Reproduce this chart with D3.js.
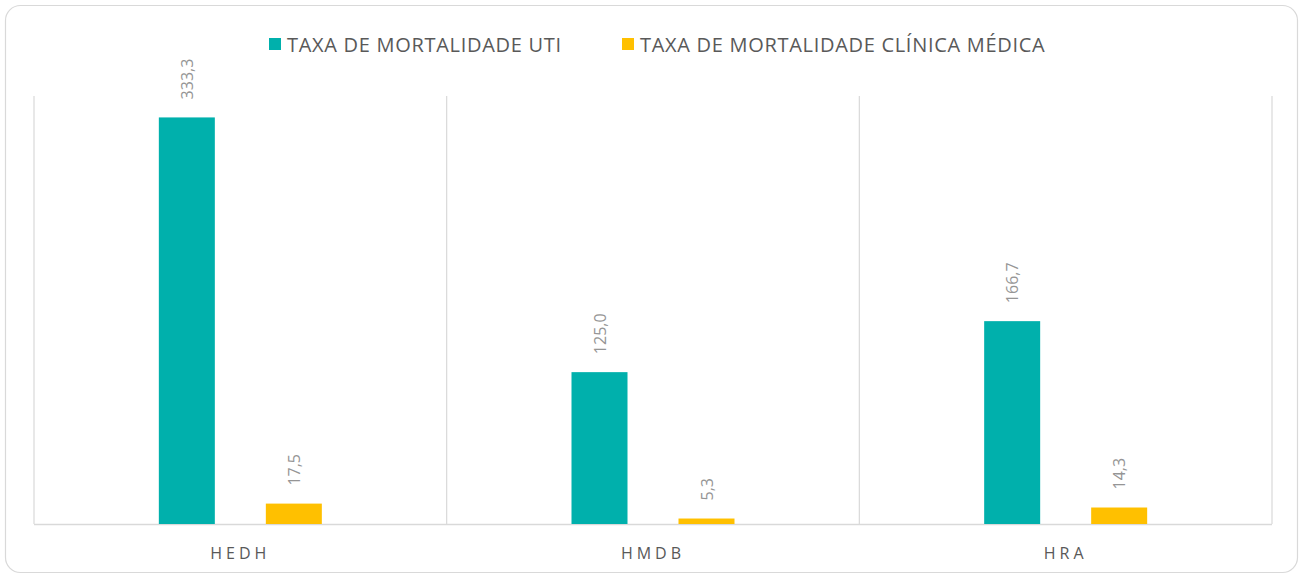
<!DOCTYPE html>
<html>
<head>
<meta charset="utf-8">
<script src="https://cdn.jsdelivr.net/npm/d3@7"></script>
<style>
  html, body { margin: 0; padding: 0; background: #fff; }
  svg { display: block; font-family: "Open Sans", sans-serif; }
</style>
</head>
<body>
<svg id="chart" width="1303" height="578"></svg>
<script>
// categorias e series
const hospitais = ['HEDH', 'HMDB', 'HRA'];
const series = ['TAXA DE MORTALIDADE UTI', 'TAXA DE MORTALIDADE CLÍNICA MÉDICA'];
const taxaUti = [333.3, 125.0, 166.7];
const taxaClinica = [17.5, 5.3, 14.3];
const cores = ['#00b0ac', '#ffc000'];

const width = 1303, height = 578;
const margin = { top: 96, right: 31, bottom: 54, left: 34 };
const svg = d3.select('#chart');

// moldura arredondada
svg.append('rect')
    .attr('x', 5.5).attr('y', 5.5)
    .attr('width', width - 11).attr('height', height - 11)
    .attr('rx', 15).attr('ry', 15)
    .attr('fill', '#fff')
    .attr('stroke', '#d9d9d9')
    .attr('stroke-width', 1.2);

const x0 = d3.scaleBand()
    .domain(hospitais)
    .range([margin.left, width - margin.right]);

const y = d3.scaleLinear()
    .domain([0, 350])
    .range([height - margin.bottom, margin.top]);

// barras ocupam 163px centradas no grupo, largura 56
const barW = 56, pairW = 163;
const offsets = [-pairW / 2, pairW / 2 - barW];

// linhas verticais entre categorias
const bounds = hospitais.map(h => x0(h)).concat([x0.range()[1]]);
svg.append('g').selectAll('line')
    .data(bounds)
    .enter().append('line')
    .attr('x1', d => d).attr('x2', d => d)
    .attr('y1', margin.top).attr('y2', y(0))
    .attr('stroke', '#d9d9d9').attr('stroke-width', 1.2);

// eixo x
svg.append('line')
    .attr('x1', margin.left).attr('x2', width - margin.right)
    .attr('y1', y(0) + 0.5).attr('y2', y(0) + 0.5)
    .attr('stroke', '#d9d9d9').attr('stroke-width', 1.4);

const dados = [taxaUti, taxaClinica];
dados.forEach((vals, s) => {
    const g = svg.append('g');
    g.selectAll('rect')
        .data(vals)
        .enter().append('rect')
        .attr('x', (d, i) => x0(hospitais[i]) + x0.bandwidth() / 2 + offsets[s])
        .attr('y', d => y(d) + 1)
        .attr('width', barW)
        .attr('height', d => y(0) - y(d) - 1)
        .attr('fill', cores[s]);

    g.selectAll('text')
        .data(vals)
        .enter().append('text')
        .attr('transform', (d, i) => {
            const cx = x0(hospitais[i]) + x0.bandwidth() / 2 + offsets[s] + barW / 2;
            return `translate(${cx + 6},${y(d) - 17}) rotate(-90)`;
        })
        .attr('font-size', 16)
        .attr('fill', '#959595')
        .text(d => d.toFixed(1).replace('.', ','));
});

// rotulos das categorias
svg.append('g').selectAll('text')
    .data(hospitais)
    .enter().append('text')
    .attr('x', d => x0(d) + x0.bandwidth() / 2)
    .attr('y', 559)
    .attr('text-anchor', 'middle')
    .attr('font-size', 16)
    .attr('letter-spacing', '4px')
    .attr('fill', '#595959')
    .text(d => d);

// legenda
const legX = [269, 622];
series.forEach((nome, s) => {
    svg.append('rect')
        .attr('x', legX[s]).attr('y', 38)
        .attr('width', 12).attr('height', 12)
        .attr('fill', cores[s]);
    svg.append('text')
        .attr('x', legX[s] + 18).attr('y', 51.5)
        .attr('font-size', 20)
        .attr('letter-spacing', '0.7px')
        .attr('fill', '#595959')
        .text(nome);
});
</script>
</body>
</html>
